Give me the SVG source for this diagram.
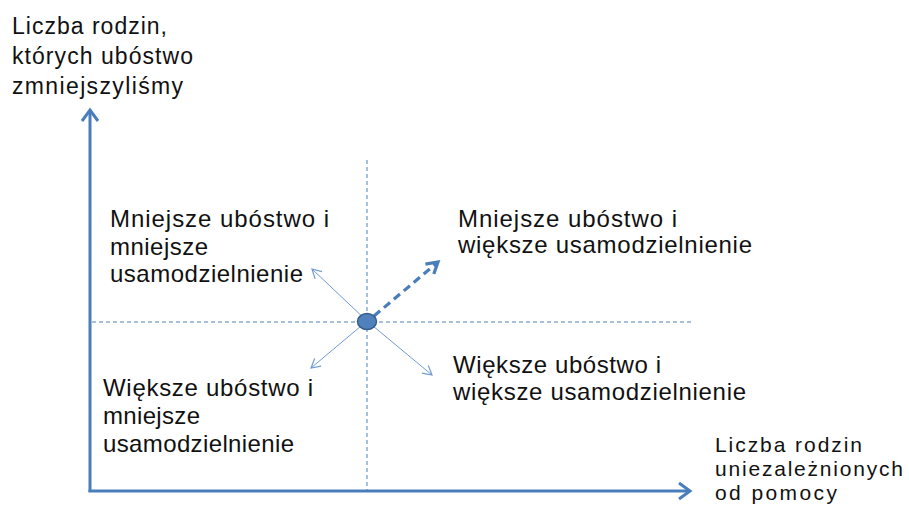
<svg xmlns="http://www.w3.org/2000/svg" width="909" height="508" viewBox="0 0 909 508">
  <style>
    .t { font-family: "Liberation Sans", Arial, sans-serif; font-size: 24px; fill: #111; }
    .tt { font-size: 23px; }
    .tx { font-size: 21px; }
    .axis { stroke: #4a7ebb; stroke-width: 3; fill: none; }
    .grid { stroke: #4f81bd; stroke-width: 1; stroke-dasharray: 4 3; fill: none; }
    .thin { stroke: #6f9bd1; stroke-width: 1; fill: none; }
    .thick { stroke: #4a7ebb; stroke-width: 3.2; stroke-dasharray: 8 5; fill: none; }
  </style>
  <defs>
    <marker id="axisHead" markerUnits="userSpaceOnUse" viewBox="-16 -10 20 20" refX="0" refY="0" markerWidth="20" markerHeight="20" orient="auto" overflow="visible">
      <path d="M-11,-8 L0,0 L-11,8" fill="none" stroke="#4a7ebb" stroke-width="3"/>
    </marker>
    <marker id="thinHead" markerUnits="userSpaceOnUse" viewBox="-12 -8 16 16" refX="0" refY="0" markerWidth="16" markerHeight="16" orient="auto" overflow="visible">
      <path d="M-9,-5 L0,0 L-9,5" fill="none" stroke="#6f9bd1" stroke-width="1.2"/>
    </marker>
    <marker id="thickHead" markerUnits="userSpaceOnUse" viewBox="-16 -10 20 20" refX="0" refY="0" markerWidth="20" markerHeight="20" orient="auto" overflow="visible">
      <path d="M-11,-6.5 L0,0 L-11,6.5" fill="none" stroke="#4a7ebb" stroke-width="3.2" stroke-linejoin="miter"/>
    </marker>
  </defs>

  <g id="grid">
    <line class="grid" x1="367" y1="160" x2="367" y2="490"/>
    <line class="grid" x1="92" y1="322" x2="693" y2="322"/>
  </g>

  <g id="connectors">
    <line class="axis" x1="90" y1="492" x2="90" y2="110" marker-end="url(#axisHead)"/>
    <line class="axis" x1="88.5" y1="491" x2="690" y2="491" marker-end="url(#axisHead)"/>
    <line class="thin" x1="367" y1="321" x2="312" y2="269" marker-end="url(#thinHead)"/>
    <line class="thin" x1="367" y1="321" x2="311" y2="368" marker-end="url(#thinHead)"/>
    <line class="thin" x1="367" y1="321" x2="432" y2="375" marker-end="url(#thinHead)"/>
    <line class="thick" x1="374" y1="316" x2="438" y2="262" marker-end="url(#thickHead)"/>
  </g>

  <g id="center">
    <ellipse cx="367" cy="321.5" rx="9.5" ry="8" fill="#4f81bd" stroke="#385d8a" stroke-width="1.5"/>
  </g>

  <g id="y-label">
    <text class="t tt" x="12" y="34" textLength="155">Liczba rodzin,</text>
    <text class="t tt" x="12" y="64" textLength="181">których ubóstwo</text>
    <text class="t tt" x="12" y="94" textLength="171">zmniejszyliśmy</text>
  </g>

  <g id="x-label">
    <text class="t tx" x="715" y="451.5" textLength="147">Liczba rodzin</text>
    <text class="t tx" x="715" y="475.5" textLength="188">uniezależnionych</text>
    <text class="t tx" x="715" y="499.5" textLength="122">od pomocy</text>
  </g>

  <g id="q-top-left">
    <text class="t" x="110" y="227" textLength="219">Mniejsze ubóstwo i</text>
    <text class="t" x="110" y="254.5" textLength="98">mniejsze</text>
    <text class="t" x="110" y="282" textLength="193">usamodzielnienie</text>
  </g>

  <g id="q-top-right">
    <text class="t" x="458" y="227" textLength="219">Mniejsze ubóstwo i</text>
    <text class="t" x="458" y="253" textLength="294">większe usamodzielnienie</text>
  </g>

  <g id="q-bottom-left">
    <text class="t" x="103" y="396" textLength="210">Większe ubóstwo i</text>
    <text class="t" x="103" y="424" textLength="97">mniejsze</text>
    <text class="t" x="103" y="452" textLength="191">usamodzielnienie</text>
  </g>

  <g id="q-bottom-right">
    <text class="t" x="453" y="373" textLength="208">Większe ubóstwo i</text>
    <text class="t" x="453" y="400" textLength="293">większe usamodzielnienie</text>
  </g>
</svg>
